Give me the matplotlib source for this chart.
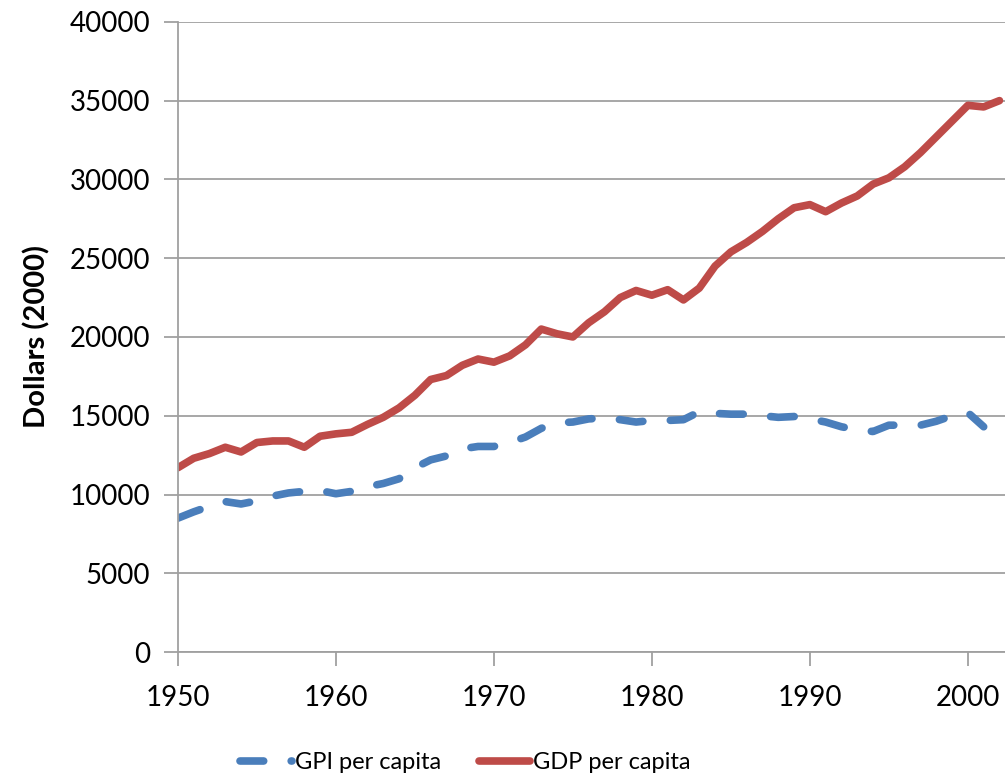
import matplotlib
matplotlib.use("Agg")
import matplotlib.pyplot as plt

plt.rcParams['font.family'] = ['Lato', 'DejaVu Sans']

years = list(range(1950, 2003))
gdp = [11700, 12300, 12600, 13000, 12700, 13300, 13400, 13400, 13000, 13700,
       13850, 13950, 14450, 14900, 15500, 16300, 17300, 17550, 18200, 18600,
       18400, 18800, 19500, 20500, 20200, 20000, 20900, 21600, 22500, 22950,
       22650, 23000, 22350, 23100, 24500, 25400, 26000, 26700, 27500, 28200,
       28400, 27950, 28500, 28950, 29700, 30100, 30800, 31700, 32700, 33700,
       34700, 34600, 35000]
gpi_years = list(range(1950, 2002))
gpi = [8500, 8900, 9250, 9550, 9400, 9600, 9900, 10100, 10200, 10250,
       10050, 10200, 10500, 10700, 11000, 11700, 12200, 12450, 12900, 13050,
       13050, 13300, 13650, 14200, 14550, 14600, 14800, 14850, 14750, 14600,
       14700, 14700, 14750, 15250, 15150, 15100, 15100, 15000, 14900, 14950,
       14800, 14600, 14300, 14100, 14000, 14400, 14400, 14400, 14650, 15000,
       15200, 14300]

blue = '#4a7ebb'
red = '#be4b48'
grey = '#a0a0a0'

fig = plt.figure(figsize=(10.05, 7.8), dpi=100)
ax = fig.add_axes([0.177, 0.164, 0.823, 0.808])

ax.plot(gpi_years, gpi, color=blue, lw=5.5, ls=(0, (3.1, 3.6)),
        dash_capstyle='round', solid_joinstyle='round', label='GPI per capita')
ax.plot(years, gdp, color=red, lw=5.5, solid_capstyle='round',
        solid_joinstyle='round', label='GDP per capita')

ax.set_xlim(1950, 2002.35)
ax.set_ylim(0, 40000)
ax.set_xticks(range(1950, 2001, 10))
ax.set_yticks(range(0, 40001, 5000))
ax.yaxis.grid(True, color=grey, lw=1.3)
ax.set_axisbelow(True)

for s in ['top', 'right']:
    ax.spines[s].set_visible(False)
for s in ['left', 'bottom']:
    ax.spines[s].set_color(grey)
    ax.spines[s].set_linewidth(1.3)
ax.tick_params(axis='both', colors=grey, width=1.3, length=10, labelsize=20,
               labelcolor='black')
ax.tick_params(axis='y', pad=10)
ax.tick_params(axis='x', pad=14)

ax.set_ylabel('Dollars (2000)', fontsize=21, fontweight='bold', labelpad=14)

fig.legend(loc='lower center', bbox_to_anchor=(0.463, -0.018), ncol=2,
           frameon=False, fontsize=17, handlelength=2.2, handletextpad=0.1,
           columnspacing=1.6)

fig.savefig('out.png', dpi=100)
